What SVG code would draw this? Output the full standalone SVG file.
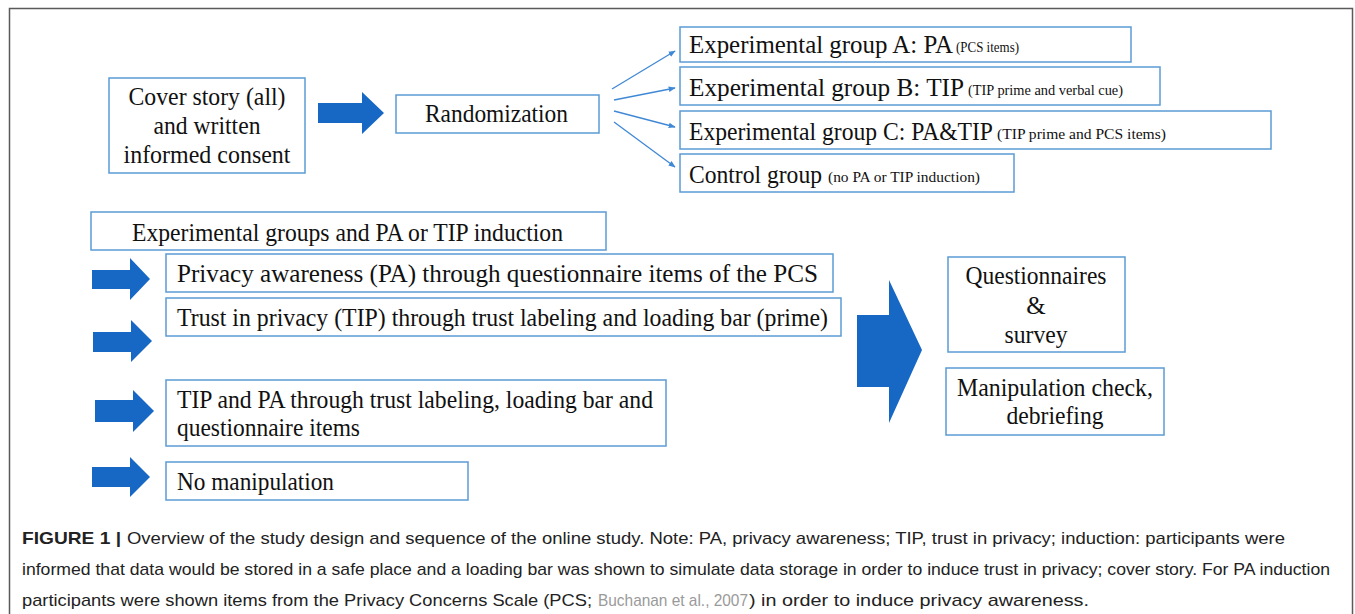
<svg xmlns="http://www.w3.org/2000/svg" width="1355" height="614" viewBox="0 0 1355 614">
<defs>
<style>
.box{fill:#fff;stroke:#5b9bd5;stroke-width:1.5}
.t{font-family:"Liberation Serif","Times New Roman",serif;font-size:25px;fill:#111}
.s{font-family:"Liberation Serif","Times New Roman",serif;font-size:15px;fill:#111}
.blk{fill:#1768c4}
.thin{stroke:#3f88d6;stroke-width:1.3;fill:none}
.cap{font-family:"Liberation Sans",Arial,sans-serif;font-size:17px;fill:#222}
</style>
<marker id="ah" viewBox="0 0 10 10" refX="9" refY="5" markerWidth="7" markerHeight="7" orient="auto" markerUnits="userSpaceOnUse">
<path d="M0,1 L10,5 L0,9 z" fill="#3f88d6"/>
</marker>
</defs>
<rect x="0" y="0" width="1355" height="614" fill="#fff"/>
<rect x="9.5" y="8.5" width="1343" height="620" fill="none" stroke="#5a5a5a" stroke-width="1.5"/>

<g id="connectors">
<line class="thin" x1="612" y1="89" x2="675" y2="51" marker-end="url(#ah)"/>
<line class="thin" x1="614" y1="100" x2="675" y2="88" marker-end="url(#ah)"/>
<line class="thin" x1="614" y1="111" x2="675" y2="127" marker-end="url(#ah)"/>
<line class="thin" x1="614" y1="122" x2="675" y2="167" marker-end="url(#ah)"/>
<polygon class="blk" points="318,103 362,103 362,92 384,113 362,134 362,123 318,123"/>
<polygon class="blk" points="92,270 130,270 130,258 150,279 130,300 130,289 92,289"/>
<polygon class="blk" points="93,332 131,332 131,320 152,341 131,362 131,352 93,352"/>
<polygon class="blk" points="95,400 133,400 133,390 154,411 133,432 133,422 95,422"/>
<polygon class="blk" points="92,467 130,467 130,457 150,477 130,497 130,487 92,487"/>
<polygon class="blk" points="857,315 889,315 889,280 922,350 889,423 889,387 857,387"/>
</g>

<g id="cover">
<rect class="box" x="109" y="78" width="196" height="95"/>
<text class="t" x="207" y="105" text-anchor="middle" textLength="157" lengthAdjust="spacingAndGlyphs">Cover story (all)</text>
<text class="t" x="207" y="134" text-anchor="middle" textLength="107" lengthAdjust="spacingAndGlyphs">and written</text>
<text class="t" x="207" y="163" text-anchor="middle" textLength="167" lengthAdjust="spacingAndGlyphs">informed consent</text>
</g>
<g id="randomization">
<rect class="box" x="396" y="95" width="203" height="38"/>
<text class="t" x="425" y="122" textLength="143" lengthAdjust="spacingAndGlyphs">Randomization</text>
</g>
<g id="groupA">
<rect class="box" x="680" y="27" width="451" height="35"/>
<text class="t" x="689" y="53" textLength="264" lengthAdjust="spacingAndGlyphs">Experimental group A: PA</text>
<text class="s" x="956" y="52" textLength="63" lengthAdjust="spacingAndGlyphs">(PCS items)</text>
</g>
<g id="groupB">
<rect class="box" x="680" y="67" width="480" height="38"/>
<text class="t" x="689" y="96" textLength="275" lengthAdjust="spacingAndGlyphs">Experimental group B: TIP</text>
<text class="s" x="968" y="95" textLength="155" lengthAdjust="spacingAndGlyphs">(TIP prime  and verbal cue)</text>
</g>
<g id="groupC">
<rect class="box" x="680" y="111" width="591" height="38"/>
<text class="t" x="689" y="140" textLength="304" lengthAdjust="spacingAndGlyphs">Experimental group C: PA&amp;TIP</text>
<text class="s" x="997" y="139" textLength="169" lengthAdjust="spacingAndGlyphs">(TIP prime  and PCS items)</text>
</g>
<g id="control">
<rect class="box" x="680" y="154" width="334" height="38"/>
<text class="t" x="689" y="183" textLength="133" lengthAdjust="spacingAndGlyphs">Control group</text>
<text class="s" x="828" y="182" textLength="152" lengthAdjust="spacingAndGlyphs">(no PA or TIP induction)</text>
</g>
<g id="induction">
<rect class="box" x="91" y="212" width="515" height="38"/>
<text class="t" x="132" y="241" textLength="431" lengthAdjust="spacingAndGlyphs">Experimental groups and PA or TIP induction</text>
</g>
<g id="pa">
<rect class="box" x="166" y="254" width="667" height="38"/>
<text class="t" x="177" y="282" textLength="641" lengthAdjust="spacingAndGlyphs">Privacy awareness (PA) through questionnaire items of the PCS</text>
</g>
<g id="tip">
<rect class="box" x="166" y="298" width="675" height="38"/>
<text class="t" x="177" y="326" textLength="651" lengthAdjust="spacingAndGlyphs">Trust in privacy (TIP) through trust labeling and loading bar (prime)</text>
</g>
<g id="tippa">
<rect class="box" x="166" y="380" width="500" height="66"/>
<text class="t" x="177" y="408" textLength="476" lengthAdjust="spacingAndGlyphs">TIP and PA through trust labeling,  loading bar and</text>
<text class="t" x="177" y="436" textLength="183" lengthAdjust="spacingAndGlyphs">questionnaire items</text>
</g>
<g id="nomanip">
<rect class="box" x="166" y="462" width="302" height="38"/>
<text class="t" x="177" y="490" textLength="157" lengthAdjust="spacingAndGlyphs">No manipulation</text>
</g>
<g id="questionnaires">
<rect class="box" x="948" y="257" width="177" height="95"/>
<text class="t" x="1036" y="284" text-anchor="middle" textLength="141" lengthAdjust="spacingAndGlyphs">Questionnaires</text>
<text class="t" x="1036" y="314" text-anchor="middle">&amp;</text>
<text class="t" x="1036" y="343" text-anchor="middle" textLength="63" lengthAdjust="spacingAndGlyphs">survey</text>
</g>
<g id="check">
<rect class="box" x="946" y="368" width="218" height="67"/>
<text class="t" x="1055" y="396" text-anchor="middle" textLength="196" lengthAdjust="spacingAndGlyphs">Manipulation check,</text>
<text class="t" x="1055" y="424" text-anchor="middle" textLength="97" lengthAdjust="spacingAndGlyphs">debriefing</text>
</g>

<g id="caption">
<text class="cap" x="22" y="544" font-weight="bold" textLength="99" lengthAdjust="spacingAndGlyphs">FIGURE 1 |</text>
<text class="cap" x="127" y="544" textLength="1158" lengthAdjust="spacingAndGlyphs">Overview of the study design and sequence of the online study. Note: PA, privacy awareness; TIP, trust in privacy; induction: participants were</text>
<text class="cap" x="22" y="575" textLength="1308" lengthAdjust="spacingAndGlyphs">informed that data would be stored in a safe place and a loading bar was shown to simulate data storage in order to induce trust in privacy; cover story. For PA induction</text>
<text class="cap" x="22" y="606" textLength="570" lengthAdjust="spacingAndGlyphs">participants were shown items from the Privacy Concerns Scale (PCS;</text>
<text class="cap" x="598" y="606" style="fill:#9a9a9a" textLength="150" lengthAdjust="spacingAndGlyphs">Buchanan et al., 2007</text>
<text class="cap" x="749" y="606" textLength="340" lengthAdjust="spacingAndGlyphs">) in order to induce privacy awareness.</text>
</g>
</svg>
